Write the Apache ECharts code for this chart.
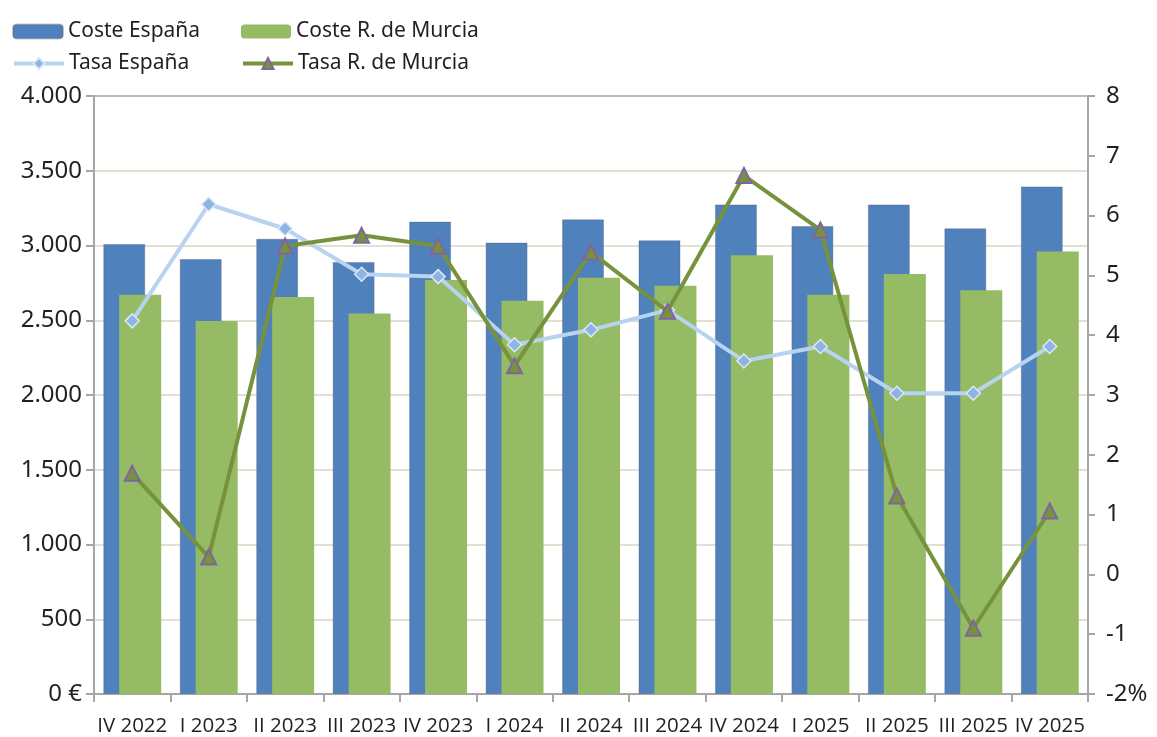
<!DOCTYPE html>
<html>
<head>
<meta charset="utf-8">
<script src="https://cdn.jsdelivr.net/npm/echarts@6/dist/echarts.min.js"></script>
<style>
html,body{margin:0;padding:0;background:#fff;}
#c{width:1157px;height:737px;}
</style>
</head>
<body>
<div id="c"></div>
<script>
var categories = ['IV 2022','I 2023','II 2023','III 2023','IV 2023','I 2024','II 2024','III 2024','IV 2024','I 2025','II 2025','III 2025','IV 2025'];
var costeEspana = [3010, 2910, 3045, 2890, 3160, 3020, 3175, 3035, 3275, 3130, 3275, 3115, 3395];
var costeMurcia = [2670, 2495, 2655, 2545, 2770, 2630, 2785, 2730, 2935, 2670, 2810, 2700, 2960];
var tasaEspana = [4.24, 6.19, 5.78, 5.02, 4.98, 3.84, 4.09, 4.42, 3.57, 3.81, 3.03, 3.03, 3.81];
var tasaMurcia = [1.69, 0.29, 5.49, 5.67, 5.49, 3.49, 5.39, 4.40, 6.67, 5.76, 1.31, -0.90, 1.06];

var FONT = "Noto Sans";
var TXT = '#231f20';
var chart = echarts.init(document.getElementById('c'), null, {renderer:'canvas'});

function leg(name, left, top, w, h, isLine) {
  var l = {
    data: [name], left: left, top: top, itemWidth: w, itemHeight: h, itemGap: 0,
    padding: 0, textStyle: {fontFamily: FONT, fontSize: 21, color: TXT},
    selectedMode: false
  };
  if (isLine) l.lineStyle = {width: 4};
  return l;
}

var option = {
  animation: false,
  backgroundColor: '#fff',
  textStyle: {fontFamily: FONT},
  legend: [
    leg('Coste España', 12, 21, 50, 14, false),
    leg('Coste R. de Murcia', 241, 21, 50, 14, false),
    leg('Tasa España', 12, 53, 50, 14, true),
    leg('Tasa R. de Murcia', 241, 53, 50, 14, true)
  ],
  grid: {left: 94, right: 69, top: 96, bottom: 43, containLabel: false},
  xAxis: {
    type: 'category',
    data: categories,
    boundaryGap: true,
    axisLine: {lineStyle: {color: '#a6a6a6', width: 2}},
    axisTick: {show: true, length: 8, lineStyle: {color: '#a6a6a6', width: 2}},
    axisLabel: {interval: 0, margin: 22, fontFamily: 'Open Sans', fontWeight: 'normal', fontStyle: 'normal', fontSize: 20.5, color: TXT}
  },
  yAxis: [
    {
      type: 'value', min: 0, max: 4000, interval: 500,
      axisLine: {show: true, lineStyle: {color: '#a6a6a6', width: 2}},
      axisTick: {show: true, length: 8, lineStyle: {color: '#a6a6a6', width: 2}},
      splitLine: {show: true, lineStyle: {color: ['#d9d6c1','#d9d6c1','#d9d6c1','#d9d6c1','#d9d6c1','#d9d6c1','#d9d6c1','#d9d6c1','#a6a6a6'], width: 1.5}},
      axisLabel: {
        fontFamily: FONT, fontSize: 24, color: TXT, margin: 12,
        formatter: function (v) {
          if (v === 0) return '0 €';
          var s = String(v);
          return s.length > 3 ? s.slice(0, s.length - 3) + '.' + s.slice(s.length - 3) : s;
        }
      }
    },
    {
      type: 'value', min: -2, max: 8, interval: 1, position: 'right',
      axisLine: {show: true, lineStyle: {color: '#a6a6a6', width: 2}},
      axisTick: {show: true, length: 7, lineStyle: {color: '#a6a6a6', width: 2}},
      splitLine: {show: false},
      axisLabel: {
        fontFamily: FONT, fontSize: 24, color: TXT, margin: 18,
        formatter: function (v) { return v === -2 ? '-2%' : String(v); }
      }
    }
  ],
  series: [
    {
      name: 'Coste España', type: 'bar', data: costeEspana, yAxisIndex: 0,
      barWidth: 42, barGap: '-62%',
      itemStyle: {color: '#4f81bd', borderColor: 'rgba(90,90,110,0.35)', borderWidth: 1},
      z: 2
    },
    {
      name: 'Coste R. de Murcia', type: 'bar', data: costeMurcia, yAxisIndex: 0,
      barWidth: 42, barGap: '-62%',
      itemStyle: {color: '#95bb64'},
      z: 3
    },
    {
      name: 'Tasa España', type: 'line', data: tasaEspana, yAxisIndex: 1,
      symbol: 'diamond', symbolSize: 14,
      lineStyle: {color: '#b8d3ef', width: 4},
      itemStyle: {color: '#8db4e2', borderColor: '#dce8f6', borderWidth: 1.5},
      z: 5
    },
    {
      name: 'Tasa R. de Murcia', type: 'line', data: tasaMurcia, yAxisIndex: 1,
      symbol: 'triangle', symbolSize: 15,
      lineStyle: {color: '#76933c', width: 4},
      itemStyle: {color: '#76933c', borderColor: '#8064a2', borderWidth: 2},
      z: 6
    }
  ]
};
chart.setOption(option);
</script>
</body>
</html>
